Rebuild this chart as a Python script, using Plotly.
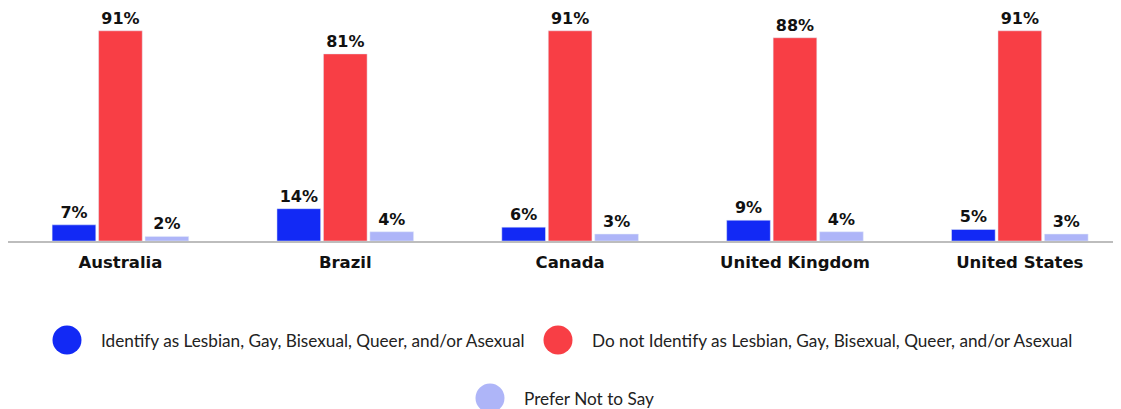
import plotly.graph_objects as go

countries = ["Australia", "Brazil", "Canada", "United Kingdom", "United States"]
series_names = [
    "Identify as Lesbian, Gay, Bisexual, Queer, and/or Asexual",
    "Do not Identify as Lesbian, Gay, Bisexual, Queer, and/or Asexual",
    "Prefer Not to Say",
]
identify = [7, 14, 6, 9, 5]
not_identify = [91, 81, 91, 88, 91]
prefer_not = [2, 4, 3, 4, 3]
colors = ["#1229F5", "#F83E45", "#AEB5F8"]

# page is drawn with an 8px body margin
OFF = 8
W, H = 1121 - OFF, 409 - OFF
L, R, T, B = 0, 0, 2, 168
pw, ph = W - L - R, H - T - B

def px_x(x):  # page pixel -> paper
    return (x - OFF - L) / pw

def px_y(y):
    return (H - B - (y - OFF)) / ph

fig = go.Figure()
for name, vals, col in zip(series_names, [identify, not_identify, prefer_not], colors):
    fig.add_trace(go.Bar(
        x=countries, y=vals, name=name, marker_color=col,
        text=[f"{v}%" for v in vals], textposition="outside",
        textfont=dict(family="DejaVu Sans", size=16, color="#111", weight="bold"),
        cliponaxis=False, showlegend=False,
    ))

# Manual legend (large circle markers)
legend_items = [(67, 340, 0), (558, 340, 1), (490, 398, 2)]
for cx, cy, i in legend_items:
    fig.add_shape(type="circle", xref="paper", yref="paper",
                  xsizemode="pixel", ysizemode="pixel",
                  xanchor=px_x(cx), yanchor=px_y(cy),
                  x0=-14.5, x1=14.5, y0=-14.5, y1=14.5,
                  fillcolor=colors[i], line_width=0)
    fig.add_annotation(xref="paper", yref="paper", x=px_x(cx + 32), y=px_y(cy),
                       text=series_names[i], showarrow=False,
                       xanchor="left", yanchor="middle",
                       font=dict(family="Lato", size=17.2, color="#222"))

fig.update_layout(
    width=W, height=H,
    margin=dict(l=L, r=R, t=T, b=B),
    barmode="group", bargap=0.38, bargroupgap=0.06,
    plot_bgcolor="white", paper_bgcolor="white",
    showlegend=False,
    xaxis=dict(range=[-0.5, 4.45], showline=True, linecolor="#BDBDBD", linewidth=2,
               ticks="", ticklabelstandoff=5,
               tickfont=dict(family="DejaVu Sans", size=16.5, color="#111", weight="bold"),
               showgrid=False, fixedrange=True),
    yaxis=dict(range=[0, 100], visible=False, showgrid=False, fixedrange=True),
)

fig.write_html("out.html")
